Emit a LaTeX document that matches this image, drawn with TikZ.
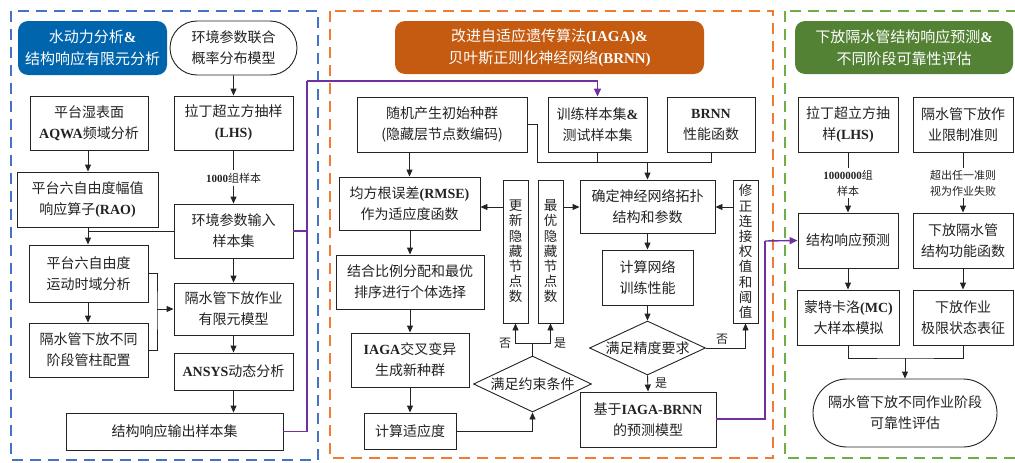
\documentclass[tikz,border=0pt]{standalone}
\usepackage{fontspec}
\setmainfont{Noto Sans CJK SC}
\newfontfamily\latf{Liberation Serif}
\newcommand{\eb}[1]{{\latf\bfseries #1}}
\usetikzlibrary{arrows.meta,shapes.geometric,shapes.misc}
\definecolor{pnlblue}{RGB}{68,114,196}
\definecolor{pnlorange}{RGB}{237,125,49}
\definecolor{pnlgreen}{RGB}{112,173,71}
\definecolor{hdblue}{RGB}{0,101,172}
\definecolor{hdorange}{RGB}{197,90,17}
\definecolor{hdgreen}{RGB}{84,130,53}
\definecolor{purp}{RGB}{112,48,160}
\definecolor{ink}{RGB}{35,35,35}
\tikzset{
  box/.style={draw=ink, line width=0.9pt, fill=white, align=center, inner sep=0pt,
    font=\fontsize{14}{21}\selectfont, text=ink},
  vbox/.style={box, font=\fontsize{13.5}{15.2}\selectfont},
  term/.style={box, rounded rectangle},
  dia/.style={draw=ink, line width=0.9pt, fill=white, diamond, inner sep=0pt, aspect=2,
    font=\fontsize{14}{21}\selectfont, text=ink},
  hdr/.style={rounded corners=10pt, align=center, text=white, inner sep=0pt,
    font=\fontsize{15}{22}\selectfont},
  arr/.style={-{Triangle[length=7pt,width=6pt]}, line width=0.9pt, draw=ink},
  ln/.style={line width=0.9pt, draw=ink},
  plink/.style={draw=purp, line width=1.4pt},
  parr/.style={plink, -{Triangle[length=8pt,width=7pt]}},
  panel/.style={line width=1.6pt, dash pattern=on 11pt off 7pt},
  lbl/.style={fill=white, inner sep=1pt, align=center, text=ink, font=\fontsize{11}{16}\selectfont},
  yn/.style={inner sep=0pt, text=ink, font=\fontsize{12}{14}\selectfont}
}
\begin{document}
\begin{tikzpicture}[x=1pt,y=-1pt]
\useasboundingbox (0,0) rectangle (1015,463);
% panels
\draw[panel, pnlblue] (11,11) rectangle (318,460);
\draw[panel, pnlorange] (330,11) rectangle (773,458);
\draw[panel, pnlgreen] (785,11) rectangle (1030,458);

% ---------- left panel ----------
\node[hdr, fill=hdblue, minimum width=149pt, minimum height=54pt] (hdrA) at (92.5,48) {水动力分析\eb{\&}\\结构响应有限元分析};
\node[term, minimum width=127pt, minimum height=54pt] (envM) at (233.5,48) {环境参数联合\\概率分布模型};
\node[box, minimum width=118pt, minimum height=54pt] (aqwa) at (89,123) {平台湿表面\\\eb{AQWA}频域分析};
\node[box, minimum width=119pt, minimum height=54pt] (lhsA) at (233.5,123) {拉丁超立方抽样\\\eb{(LHS)}};
\node[box, minimum width=141pt, minimum height=55pt] (rao) at (87.5,199.5) {平台六自由度幅值\\响应算子\eb{(RAO)}};
\node[box, minimum width=119pt, minimum height=54pt] (envS) at (233.5,231) {环境参数输入\\样本集};
\node[box, minimum width=119pt, minimum height=57pt] (motion) at (88.5,273.5) {平台六自由度\\运动时域分析};
\node[box, minimum width=119pt, minimum height=54pt] (config) at (88.5,350) {隔水管下放不同\\阶段管柱配置};
\node[box, minimum width=119pt, minimum height=52pt] (fem) at (233.5,309) {隔水管下放作业\\有限元模型};
\node[box, minimum width=119pt, minimum height=37pt] (ansys) at (233.5,371.5) {\eb{ANSYS}动态分析};
\node[box, minimum width=217pt, minimum height=37pt] (outS) at (174.5,431.5) {结构响应输出样本集};

\draw[arr] (envM) -- (lhsA);
\draw[ln] (lhsA.south) -- (233.5,170);
\node[lbl] (lblA) at (233.5,178) {\eb{1000}组样本};
\draw[arr] (233.5,186) -- (envS.north);
\draw[arr] (aqwa.south -| 88,0) -- (rao.north -| 88,0);
\draw[ln] (envS.west) -- (envS.west -| 88,0);
\draw[arr] (rao.south -| 88,0) -- (motion.north -| 88,0);
\draw[arr] (motion.south -| 88,0) -- (config.north -| 88,0);
\coordinate (brk) at (157,309);
\draw[ln] (motion.east) -| (brk) |- (config.east);
\draw[arr] (brk) -- (fem.west);
\draw[arr] (envS) -- (fem);
\draw[arr] (fem) -- (ansys);
\draw[arr] (ansys.south) -- (outS.north -| ansys.south);

% ---------- middle panel ----------
\node[hdr, fill=hdorange, minimum width=309pt, minimum height=53pt] (hdrB) at (549.5,47.5) {改进自适应遗传算法\eb{(IAGA)\&}\\贝叶斯正则化神经网络\eb{(BRNN)}};
\node[box, minimum width=170pt, minimum height=55pt] (rand) at (442,124.5) {随机产生初始种群\\(隐藏层节点数编码)};
\node[box, minimum width=99pt, minimum height=55pt] (train) at (597.5,124.5) {训练样本集\eb{\&}\\测试样本集};
\node[box, minimum width=88pt, minimum height=55pt] (brnn) at (711,124.5) {\eb{BRNN}\\性能函数};
\node[box, minimum width=141pt, minimum height=53pt] (rmse) at (409.5,203.5) {均方根误差\eb{(RMSE)}\\作为适应度函数};
\node[vbox, minimum width=25pt, minimum height=143pt] (upd) at (515.5,251.5) {更\\新\\隐\\藏\\节\\点\\数};
\node[vbox, minimum width=25pt, minimum height=143pt] (best) at (550.5,251.5) {最\\优\\隐\\藏\\节\\点\\数};
\node[box, minimum width=135pt, minimum height=53pt] (topo) at (647.5,206.5) {确定神经网络拓扑\\结构和参数};
\node[vbox, minimum width=25pt, minimum height=143pt] (fix) at (745.5,251.5) {修\\正\\连\\接\\权\\值\\和\\阈\\值};
\node[box, minimum width=91pt, minimum height=55pt] (calcN) at (647.5,277.5) {计算网络\\训练性能};
\node[dia, minimum width=116pt, minimum height=54pt] (acc) at (647.5,348) {\makebox[0pt]{满足精度要求}};
\node[box, minimum width=136pt, minimum height=55pt] (model) at (648,419.5) {基于\eb{IAGA-BRNN}\\的预测模型};
\node[box, minimum width=148pt, minimum height=54pt] (sel) at (410,282) {结合比例分配和最优\\排序进行个体选择};
\node[box, minimum width=118pt, minimum height=54pt] (iaga) at (410,360) {\eb{IAGA}交叉变异\\生成新种群};
\node[box, minimum width=92pt, minimum height=36pt] (fit) at (410,431) {计算适应度};
\node[dia, minimum width=118pt, minimum height=56pt] (cons) at (532.5,384) {\makebox[0pt]{满足约束条件}};

\draw[arr] (rand.south -| rmse.north) -- (rmse.north);
\coordinate (jn) at (537,162);
\draw[ln] (rand.east) -| (jn) -- (brnn.south |- jn) -- (brnn.south);
\draw[ln] (train.south) -- (train.south |- jn);
\draw[arr] (topo.north |- jn) -- (topo.north);
\draw[arr] (upd.west |- 0,207) -- (rmse.east |- 0,207);
\draw[arr] (best.east |- 0,207) -- (topo.west |- 0,207);
\draw[arr] (fix.west |- 0,207) -- (topo.east |- 0,207);
\draw[arr] (topo) -- (calcN);
\draw[arr] (calcN) -- (acc.north);
\draw[arr] (acc.east) -| (fix.south);
\node[yn] (noA) at (722,339) {否};
\draw[arr] (acc.south) -- (model.north);
\node[yn] (yesA) at (661,383) {是};
\draw[arr] (rmse.south -| sel.north) -- (sel.north);
\draw[arr] (sel) -- (iaga);
\draw[arr] (iaga) -- (fit);
\draw[arr] (fit.east) -| (cons.south);
\coordinate (sp) at (532.5,343);
\draw[ln] (cons.north) -- (sp);
\draw[arr] (sp) -| (upd.south);
\draw[arr] (sp) -| (best.south);
\node[yn] (noB) at (505,343) {否};
\node[yn] (yesB) at (560,343) {是};

% purple links
\coordinate (pA) at (307,81);
\draw[plink] (outS.east) -| (pA);
\draw[plink] (envS.east) -- (envS.east -| pA);
\draw[parr] (pA) -| (train.north);

% ---------- right panel ----------
\node[hdr, fill=hdgreen, minimum width=218pt, minimum height=53pt] (hdrC) at (904,47.5) {下放隔水管结构响应预测\eb{\&}\\不同阶段可靠性评估};
\node[box, minimum width=100pt, minimum height=55pt] (lhsB) at (848,124.5) {拉丁超立方抽\\样\eb{(LHS)}};
\node[box, minimum width=100pt, minimum height=55pt] (crit) at (963,124.5) {隔水管下放作\\业限制准则};
\node[box, minimum width=100pt, minimum height=55pt] (pred) at (848,240.5) {结构响应预测};
\node[box, minimum width=100pt, minimum height=55pt] (func) at (963,240.5) {下放隔水管\\结构功能函数};
\node[box, minimum width=102pt, minimum height=55pt] (mc) at (848.5,317.5) {蒙特卡洛\eb{(MC)}\\大样本模拟};
\node[box, minimum width=100pt, minimum height=55pt] (lim) at (963,317.5) {下放作业\\极限状态表征};
\node[term, minimum width=184pt, minimum height=68pt] (rel) at (905,413) {隔水管下放不同作业阶段\\可靠性评估};

\draw[ln] (lhsB.south) -- (848,168);
\node[lbl] (lblB) at (848,183.5) {\eb{1000000}组\\样本};
\draw[arr] (848,198) -- (pred.north);
\draw[ln] (crit.south) -- (963,168);
\node[lbl] (lblC) at (963,183.5) {超出任一准则\\视为作业失败};
\draw[arr] (963,198) -- (func.north);
\draw[arr] (pred.south) -- (pred.south |- mc.north);
\draw[arr] (func) -- (lim);
\coordinate (jr) at (905,358);
\draw[ln] (mc.south -| pred.south) |- (jr) -| (lim.south);
\draw[arr] (jr) -- (rel.north);

\coordinate (pB) at (765,241);
\draw[plink] (model.east |- 0,419) -| (pB);
\draw[parr] (pB) -- (pred.west);
\end{tikzpicture}
\end{document}
